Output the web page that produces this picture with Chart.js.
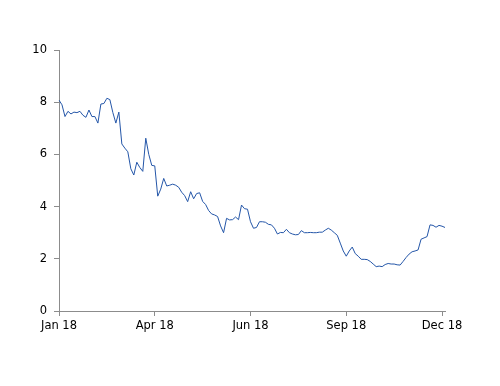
<!DOCTYPE html>
<html>
<head>
<meta charset="utf-8">
<script src="https://cdn.jsdelivr.net/npm/chart.js@4/dist/chart.umd.min.js"></script>
<style>
  html, body { margin: 0; padding: 0; background: #fff; }
  #wrap { width: 500px; height: 386px; }
</style>
</head>
<body>
<div id="wrap"><canvas id="c" width="500" height="386"></canvas></div>
<script>
// Tick labels shown every 32 observations
const tickLabels = ["Jan 18", "Apr 18", "Jun 18", "Sep 18", "Dec 18"];
const labelStep = 32;

// Series values (roughly every other business day)
const values = [
  8.08, 7.90, 7.45, 7.65, 7.55, 7.62, 7.60, 7.65, 7.50, 7.42,
  7.70, 7.45, 7.45, 7.20, 7.93, 7.95, 8.15, 8.10, 7.60, 7.20,
  7.62, 6.40, 6.24, 6.10, 5.45, 5.21, 5.70, 5.50, 5.35, 6.62,
  6.00, 5.58, 5.56, 4.40, 4.67, 5.08, 4.79, 4.82, 4.86, 4.82,
  4.74, 4.55, 4.42, 4.19, 4.57, 4.30, 4.50, 4.53, 4.20, 4.08,
  3.85, 3.72, 3.68, 3.62, 3.26, 3.00, 3.55, 3.49, 3.50, 3.60,
  3.50, 4.06, 3.92, 3.90, 3.42, 3.17, 3.20, 3.42, 3.42, 3.40,
  3.32, 3.30, 3.17, 2.95, 3.01, 3.00, 3.13, 3.00, 2.95, 2.92,
  2.93, 3.08, 3.00, 3.00, 3.01, 3.00, 3.00, 3.02, 3.02, 3.10,
  3.17, 3.10, 3.00, 2.90, 2.60, 2.30, 2.10, 2.30, 2.45, 2.20,
  2.10, 1.98, 1.98, 1.97, 1.90, 1.80, 1.70, 1.72, 1.70, 1.78,
  1.82, 1.80, 1.80, 1.77, 1.76, 1.90, 2.05, 2.18, 2.27, 2.30,
  2.34, 2.75, 2.80, 2.85, 3.30, 3.28, 3.21, 3.28, 3.25, 3.20
];

// Category labels: one per observation, named only at every labelStep-th point
const categories = values.map((v, i) =>
  (i % labelStep === 0 && tickLabels[i / labelStep]) ? tickLabels[i / labelStep] : "");

const axisColor = "#8c8c8c";
const font = { family: "DejaVu Sans", size: 11.5 };

new Chart(document.getElementById("c"), {
  type: "line",
  data: {
    labels: categories,
    datasets: [{
      data: values,
      borderColor: "#2456a8",
      borderWidth: 1,
      pointRadius: 0,
      fill: false,
      tension: 0
    }]
  },
  options: {
    responsive: false,
    animation: false,
    events: [],
    layout: { padding: { top: 50, right: 55, bottom: 0, left: 0 } },
    plugins: { legend: { display: false }, tooltip: { enabled: false } },
    scales: {
      x: {
        type: "category",
        offset: false,
        border: { color: axisColor, width: 1 },
        grid: { drawOnChartArea: false, drawTicks: true, tickLength: 5, color: axisColor },
        ticks: {
          autoSkip: false,
          maxRotation: 0,
          minRotation: 0,
          padding: 3,
          color: "#000",
          font: font,
          callback: function (val, idx) {
            const l = categories[idx];
            return l === "" ? null : l;
          }
        },
        afterFit: function (s) { s.height = 75; }
      },
      y: {
        min: 0,
        max: 10,
        border: { color: axisColor, width: 1 },
        grid: { drawOnChartArea: false, drawTicks: true, tickLength: 5, color: axisColor },
        ticks: { stepSize: 2, padding: 7, color: "#000", font: font },
        afterFit: function (s) { s.width = 59; }
      }
    }
  }
});
</script>
</body>
</html>
